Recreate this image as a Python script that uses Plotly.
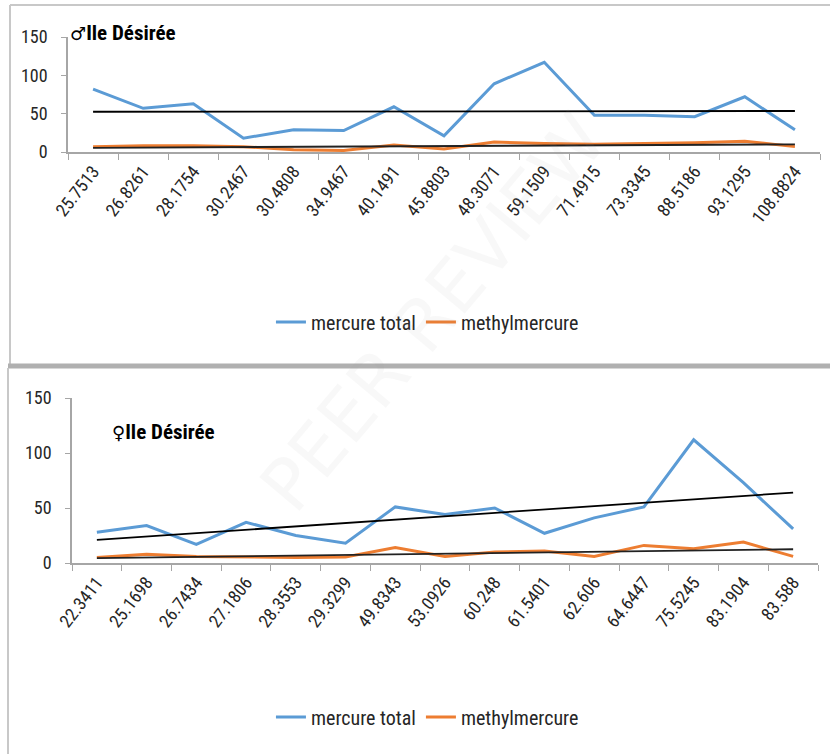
import plotly.graph_objects as go

W, H = 830, 754

# --- données ---
tailles_m = ['25.7513', '26.8261', '28.1754', '30.2467', '30.4808', '34.9467', '40.1491', '45.8803',
             '48.3071', '59.1509', '71.4915', '73.3345', '88.5186', '93.1295', '108.8824']
hg_total_m = [82, 57, 63, 18, 29, 28, 59, 21, 89, 117, 48, 48, 46, 72, 29]
mehg_m = [7, 8, 8, 7, 3, 2, 9, 4, 13, 11, 10, 11, 12, 14, 7]
tendance_total_m = [52.5, 53.5]
tendance_mehg_m = [5.5, 10]

tailles_f = ['22.3411', '25.1698', '26.7434', '27.1806', '28.3553', '29.3299', '49.8343', '53.0926',
             '60.248', '61.5401', '62.606', '64.6447', '75.5245', '83.1904', '83.588']
hg_total_f = [28, 34, 17, 37, 25, 18, 51, 44, 50, 27, 41, 51, 112, 73, 31]
mehg_f = [5, 8, 6, 5.5, 5, 5.5, 14, 6, 10, 11, 6, 16, 13, 19, 6]
tendance_total_f = [21, 64]
tendance_mehg_f = [4.5, 12.5]

bleu = '#5B9BD5'
orange = '#ED7D31'
police = 'Roboto Condensed, Liberation Sans Narrow, Arial Narrow, Liberation Sans, sans-serif'


def px_x(p):
    return p / W


def px_y(p):
    return (H - p) / H


fig = go.Figure()

# panneau mâle
fig.add_trace(go.Scatter(x=tailles_m, y=hg_total_m, mode='lines', name='mercure total',
                         line=dict(color=bleu, width=3), xaxis='x', yaxis='y', legend='legend'))
fig.add_trace(go.Scatter(x=tailles_m, y=mehg_m, mode='lines', name='methylmercure',
                         line=dict(color=orange, width=3), xaxis='x', yaxis='y', legend='legend'))
fig.add_trace(go.Scatter(x=[tailles_m[0], tailles_m[-1]], y=tendance_total_m, mode='lines',
                         line=dict(color='black', width=1.8), showlegend=False, xaxis='x', yaxis='y'))
fig.add_trace(go.Scatter(x=[tailles_m[0], tailles_m[-1]], y=tendance_mehg_m, mode='lines',
                         line=dict(color='#222222', width=1.8), showlegend=False, xaxis='x', yaxis='y'))

# panneau femelle
fig.add_trace(go.Scatter(x=tailles_f, y=hg_total_f, mode='lines', name='mercure total',
                         line=dict(color=bleu, width=3), xaxis='x2', yaxis='y2', legend='legend2'))
fig.add_trace(go.Scatter(x=tailles_f, y=mehg_f, mode='lines', name='methylmercure',
                         line=dict(color=orange, width=3), xaxis='x2', yaxis='y2', legend='legend2'))
fig.add_trace(go.Scatter(x=[tailles_f[0], tailles_f[-1]], y=tendance_total_f, mode='lines',
                         line=dict(color='black', width=1.8), showlegend=False, xaxis='x2', yaxis='y2'))
fig.add_trace(go.Scatter(x=[tailles_f[0], tailles_f[-1]], y=tendance_mehg_f, mode='lines',
                         line=dict(color='#222222', width=1.8), showlegend=False, xaxis='x2', yaxis='y2'))

axe_x = dict(type='category', range=[-0.5, 14.5], showline=True, linecolor='#a6a6a6', linewidth=1.5,
             ticks='outside', tickson='boundaries', ticklen=6, tickcolor='#a6a6a6',
             tickangle=-52, tickfont=dict(family=police, size=18, color='#262626'),
             showgrid=False, zeroline=False, fixedrange=True, automargin=False)
axe_y = dict(range=[0, 150], tickvals=[0, 50, 100, 150], showline=True, linecolor='#a6a6a6',
             linewidth=1.5, ticks='outside', ticklen=5, tickcolor='#a6a6a6',
             tickfont=dict(family=police, size=18, color='#262626'), ticklabelstandoff=10,
             showgrid=False, zeroline=False, automargin=False)

legende = dict(orientation='h', xanchor='center', x=0.515, yanchor='middle',
               font=dict(family=police, size=20, color='#262626'), bgcolor='rgba(0,0,0,0)',
               itemwidth=30)

fig.update_layout(
    width=W,
    height=H,
    margin=dict(l=0, r=0, t=0, b=0, autoexpand=False),
    paper_bgcolor='white',
    plot_bgcolor='rgba(0,0,0,0)',
    xaxis=dict(axe_x, domain=[px_x(68), px_x(820)], anchor='y'),
    yaxis=dict(axe_y, domain=[px_y(152), px_y(37)], anchor='x'),
    xaxis2=dict(axe_x, domain=[px_x(72), px_x(818)], anchor='y2'),
    yaxis2=dict(axe_y, domain=[px_y(563), px_y(398)], anchor='x2'),
    legend=dict(legende, y=px_y(322)),
    legend2=dict(legende, y=px_y(717)),
)

# titres des panneaux
symbole = '<span style="font-family:DejaVu Sans;font-size:18px">{}</span>'
fig.add_annotation(text='<b>' + symbole.format('♂') + 'Ile Désirée</b>', x=px_x(68), y=px_y(33),
                   xref='paper', yref='paper', xanchor='left', yanchor='middle', showarrow=False,
                   font=dict(family=police, size=21, color='black'))
fig.add_annotation(text='<b>' + symbole.format('♀') + 'Ile Désirée</b>', x=px_x(110), y=px_y(432),
                   xref='paper', yref='paper', xanchor='left', yanchor='middle', showarrow=False,
                   font=dict(family=police, size=21, color='black'))

# filigrane
fig.add_annotation(text='PEER REVIEW', x=px_x(625), y=px_y(530), xref='paper', yref='paper',
                   showarrow=False, textangle=-50,
                   font=dict(family='DejaVu Sans, sans-serif', size=72, color='rgba(150,150,150,0.07)'))

# cadres
gris = '#c8c8c8'
fig.add_shape(type='line', xref='paper', yref='paper', x0=px_x(10), x1=1, y0=px_y(5), y1=px_y(5),
              line=dict(color=gris, width=2))
fig.add_shape(type='line', xref='paper', yref='paper', x0=px_x(10), x1=px_x(10), y0=px_y(5), y1=px_y(364),
              line=dict(color=gris, width=2))
fig.add_shape(type='line', xref='paper', yref='paper', x0=px_x(8), x1=1, y0=px_y(366), y1=px_y(366),
              line=dict(color='#b0b0b0', width=5))
fig.add_shape(type='line', xref='paper', yref='paper', x0=px_x(8), x1=px_x(8), y0=px_y(368), y1=0,
              line=dict(color=gris, width=2))

fig.write_html('out.html', config={'displayModeBar': False},
               post_script="document.body.style.margin='0px';")
